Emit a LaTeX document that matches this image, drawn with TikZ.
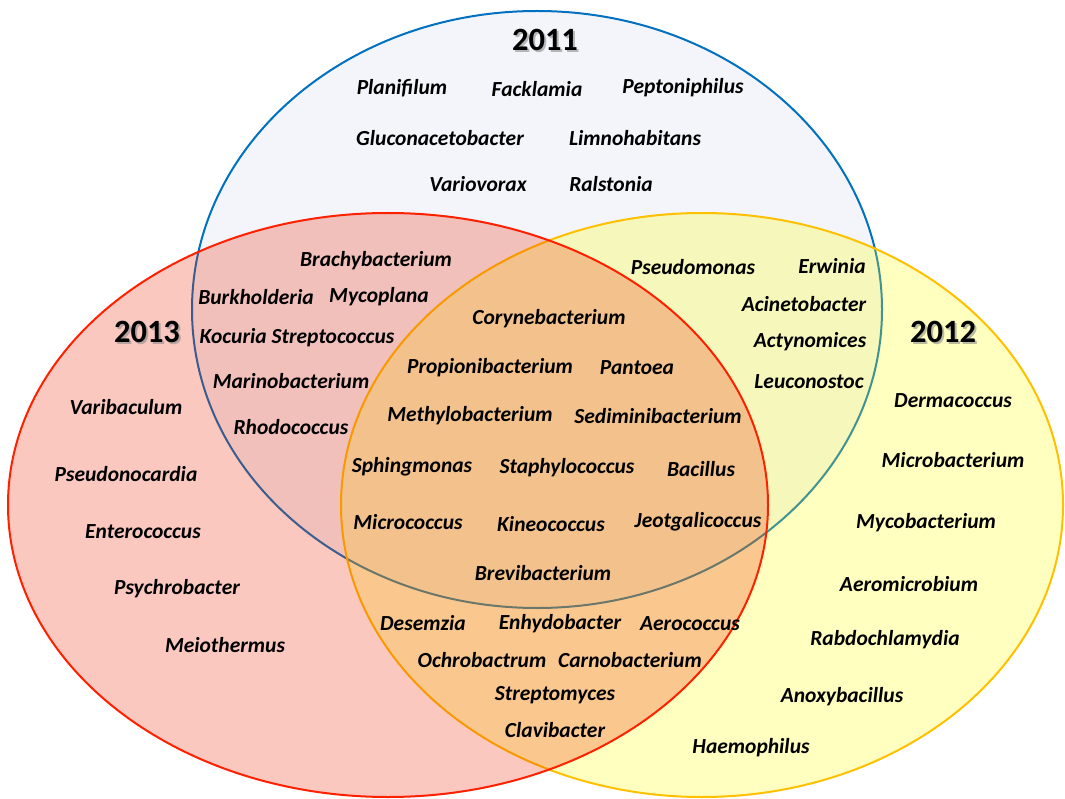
\documentclass[tikz,border=0pt]{standalone}
\usepackage{fontspec}
\setmainfont{Carlito}
\begin{document}
\begin{tikzpicture}[x=1pt,y=-1pt,
  sp/.style={font=\fontsize{21.5}{23}\selectfont\bfseries\itshape,inner sep=0pt,anchor=center},
  yr/.style={font=\fontsize{32.5}{34}\selectfont\bfseries,inner sep=0pt,anchor=center},
  yrsh/.style={yr,text=black!45,opacity=0.6}]
\useasboundingbox (0,0) rectangle (1065,799);
\definecolor{bluefill}{RGB}{243,245,250}
\definecolor{bluestroke}{RGB}{0,112,192}
\definecolor{yelfill}{RGB}{255,255,0}
\definecolor{yelstroke}{RGB}{255,192,0}
\definecolor{redfill}{RGB}{236,36,0}
\definecolor{redstroke}{RGB}{255,32,0}
% ellipses
\fill[bluefill] (537,309.5) ellipse [x radius=345, y radius=298.5];
\draw[bluestroke,line width=2pt] (537,309.5) ellipse [x radius=345, y radius=298.5];
\fill[yelfill,fill opacity=0.25] (702,505) ellipse [x radius=361, y radius=292];
\draw[yelstroke,line width=2pt] (702,505) ellipse [x radius=361, y radius=292];
\fill[redfill,fill opacity=0.25] (388,505) ellipse [x radius=380, y radius=292];
\draw[redstroke,line width=2pt] (388,505) ellipse [x radius=380, y radius=292];
% years
\node[yrsh] (y11s) at (547,42) {2011};
\node[yr] (y11) at (545,40) {2011};
\node[yrsh] (y13s) at (149,334) {2013};
\node[yr] (y13) at (147,332) {2013};
\node[yrsh] (y12s) at (945,334) {2012};
\node[yr] (y12) at (943,332) {2012};
% 2011 only
\node[sp] (n1) at (402,88) {Planifilum};
\node[sp] (n2) at (537,89) {Facklamia};
\node[sp] (n3) at (683,88) {Peptoniphilus};
\node[sp] (n4) at (440,138) {Gluconacetobacter};
\node[sp] (n5) at (635,138) {Limnohabitans};
\node[sp] (n6) at (478,184) {Variovorax};
\node[sp] (n7) at (611,184) {Ralstonia};
% 2011 & 2013
\node[sp] (n8) at (376,261) {Brachybacterium};
\node[sp] (n9) at (256,297) {Burkholderia};
\node[sp] (n10) at (379,297) {Mycoplana};
\node[sp] (n11) at (297,338) {Kocuria Streptococcus};
\node[sp] (n12) at (291,381) {Marinobacterium};
\node[sp] (n13) at (291,427) {Rhodococcus};
% 2013 only
\node[sp] (n14) at (126,407) {Varibaculum};
\node[sp] (n15) at (126,474) {Pseudonocardia};
\node[sp] (n16) at (143,532) {Enterococcus};
\node[sp] (n17) at (177,589) {Psychrobacter};
\node[sp] (n18) at (225,645) {Meiothermus};
% all three
\node[sp] (n19) at (549,319) {Corynebacterium};
\node[sp] (n20) at (490,368) {Propionibacterium};
\node[sp] (n21) at (637,368) {Pantoea};
\node[sp] (n22) at (470,416) {Methylobacterium};
\node[sp] (n23) at (658,416) {Sediminibacterium};
\node[sp] (n24) at (412,467) {Sphingmonas};
\node[sp] (n25) at (567,468) {Staphylococcus};
\node[sp] (n26) at (701,469) {Bacillus};
\node[sp] (n27) at (408,522) {Micrococcus};
\node[sp] (n28) at (551,524) {Kineococcus};
\node[sp] (n29) at (698,522) {Jeotgalicoccus};
\node[sp] (n30) at (543,573) {Brevibacterium};
% 2013 & 2012
\node[sp] (n31) at (423,623) {Desemzia};
\node[sp] (n32) at (560,624) {Enhydobacter};
\node[sp] (n33) at (690,624) {Aerococcus};
\node[sp] (n34) at (482,660) {Ochrobactrum};
\node[sp] (n35) at (630,660) {Carnobacterium};
\node[sp] (n36) at (555,695) {Streptomyces};
\node[sp] (n37) at (555,730) {Clavibacter};
% 2011 & 2012
\node[sp] (n38) at (693,267) {Pseudomonas};
\node[sp] (n39) at (832,266) {Erwinia};
\node[sp] (n40) at (804,304) {Acinetobacter};
\node[sp] (n41) at (810,342) {Actynomices};
\node[sp] (n42) at (809,382) {Leuconostoc};
% 2012 only
\node[sp] (n43) at (953,401) {Dermacoccus};
\node[sp] (n44) at (953,460) {Microbacterium};
\node[sp] (n45) at (926,523) {Mycobacterium};
\node[sp] (n46) at (909,584) {Aeromicrobium};
\node[sp] (n47) at (885,640) {Rabdochlamydia};
\node[sp] (n48) at (842,697) {Anoxybacillus};
\node[sp] (n49) at (751,748) {Haemophilus};
\end{tikzpicture}
\end{document}
